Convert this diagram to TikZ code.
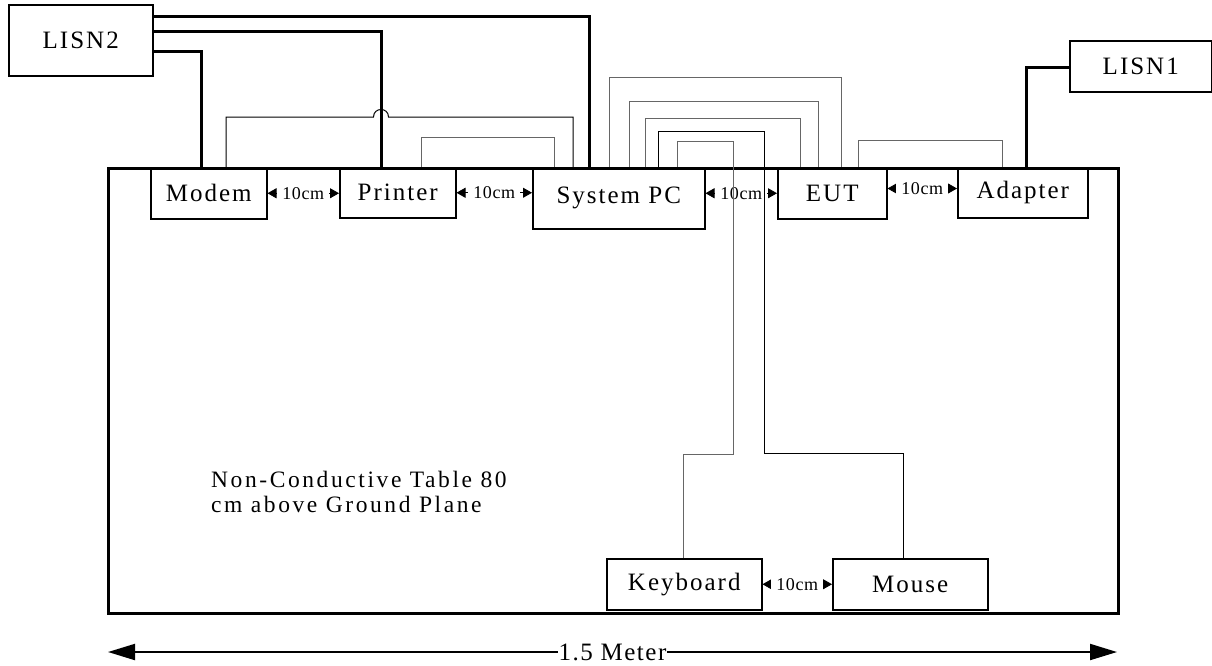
\documentclass[tikz,border=0pt]{standalone}
\usepackage{fontspec}
\setmainfont{Liberation Serif}
\newfontfamily\boxfont[LetterSpace=8]{Liberation Serif}
\newfontfamily\dimfont[LetterSpace=3]{Liberation Serif}
\newfontfamily\txtfont[LetterSpace=11]{Liberation Serif}
\newfontfamily\meterfont[LetterSpace=6]{Liberation Serif}
\usetikzlibrary{arrows.meta}
\begin{document}
\begin{tikzpicture}[x=1pt,y=-1pt,
  box/.style={draw, line width=1.5pt, fill=white, inner sep=0pt, anchor=north west,
    font=\boxfont\fontsize{25}{28}\selectfont},
  power/.style={line width=3pt},
  sig/.style={line width=1pt, draw=black!60},
  sigb/.style={line width=1pt, draw=black},
  dimarr/.style={{Triangle[length=9pt,width=10pt]}-{Triangle[length=9pt,width=10pt]}, line width=0.8pt},
  dimlbl/.style={fill=white, inner ysep=1pt, inner xsep=5pt, font=\dimfont\fontsize{18}{20}\selectfont},
  tabletext/.style={anchor=base west, inner sep=0pt, font=\txtfont\fontsize{23.5}{26}\selectfont}]
\useasboundingbox (0,0) rectangle (1212,665);

% boxes
\node[box, minimum width=144pt, minimum height=71pt] (lisn2) at (8,4) {LISN2};
\node[box, minimum width=142pt, minimum height=51pt] (lisn1) at (1069,40) {LISN1};
\node[box, minimum width=116pt, minimum height=51pt] (modem) at (150,167) {Modem};
\node[box, minimum width=116pt, minimum height=50pt] (printer) at (339,167) {Printer};
\node[box, minimum width=172pt, minimum height=61pt] (pc) at (532,167) {System PC};
\node[box, minimum width=109pt, minimum height=51pt] (eut) at (777,167) {EUT};
\node[box, minimum width=130pt, minimum height=50pt] (adapter) at (957,167) {Adapter};
\node[box, minimum width=155pt, minimum height=51pt] (keyboard) at (606,558) {Keyboard};
\node[box, minimum width=155pt, minimum height=51pt] (mouse) at (832,558) {Mouse};

% table
\node[draw, line width=3pt, inner sep=0pt, anchor=north west,
  minimum width=1010pt, minimum height=445pt] (table) at (107,167) {};

\node[tabletext] (t1) at (211,487.5) {Non-Conductive Table 80};
\node[tabletext] (t2) at (211,512) {cm above Ground Plane};

% 10cm spacings
\draw[dimarr] (modem.east) -- (printer.west |- modem.east) node[midway, dimlbl] {10cm};
\draw[dimarr] (printer.east) -- (pc.west |- printer.east) node[midway, dimlbl] {10cm};
\draw[dimarr] (pc.east |- eut.west) -- (eut.west) node[midway, dimlbl] {10cm};
\draw[dimarr] (eut.east |- 0,188.5) -- (adapter.west |- 0,188.5) node[midway, dimlbl] {10cm};
\draw[dimarr] (keyboard.east) -- (mouse.west |- keyboard.east) node[midway, dimlbl] {10cm};

% power wires
\draw[power] (lisn2.east |- 0,16.5) -| (pc.north -| 589,0);
\draw[power] (lisn2.east |- 0,31.5) -| (printer.north -| 381,0);
\draw[power] (lisn2.east |- 0,51) -| (modem.north -| 201,0);
\draw[power] (lisn1.west |- 0,67) -| (adapter.north -| 1026,0);

% signal wires
\draw[sigb] (modem.north -| 226,0) -- (226,117) -- (373.5,117)
  .. controls (373.5,107) and (388.5,107) .. (388.5,117) -- (573,117) -- (pc.north -| 573,0);
\draw[sig] (printer.north -| 421.5,0) -- ++(0,-30) -| (pc.north -| 554,0);
\draw[sig] (pc.north -| 609,0) -- ++(0,-89.3) -| (eut.north -| 841,0);
\draw[sig] (pc.north -| 629,0) -- ++(0,-66) -| (eut.north -| 818,0);
\draw[sig] (pc.north -| 645,0) -- ++(0,-48.5) -| (eut.north -| 800,0);
\draw[sigb] (pc.north -| 658,0) -- ++(0,-35.5) -| (764,453) -| (mouse.north -| 903,0);
\draw[sig] (pc.north -| 677,0) -- ++(0,-25.5) -| (733,454) -| (keyboard.north -| 683,0);
\draw[sig] (eut.north -| 858,0) -- ++(0,-27) -| (adapter.north -| 1002,0);

% width
\coordinate (mL) at (108,652);
\coordinate (mR) at (1117,652);
\draw[{Triangle[length=27pt,width=16pt]}-{Triangle[length=27pt,width=16pt]}, line width=2pt]
  (mL) -- (mR) node[midway, fill=white, inner sep=1pt, font=\meterfont\fontsize{25}{28}\selectfont] {1.5 Meter};
\end{tikzpicture}
\end{document}
